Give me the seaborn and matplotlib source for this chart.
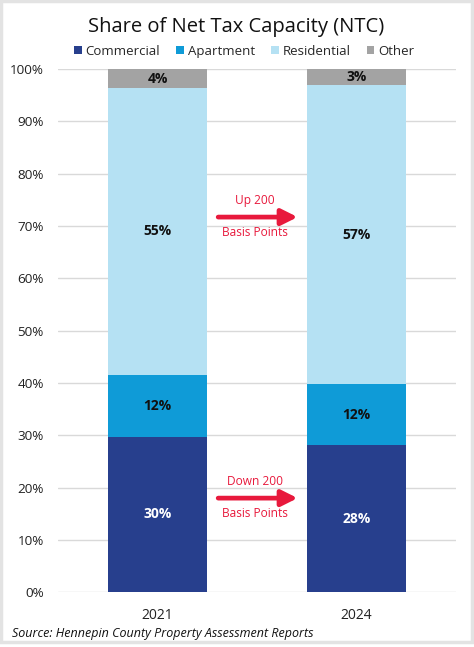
import matplotlib
matplotlib.use("Agg")
import matplotlib.pyplot as plt
import seaborn as sns
import pandas as pd
import numpy as np
from matplotlib.patches import Patch, Rectangle

years = ["2021", "2024"]
categories = ["Commercial", "Apartment", "Residential", "Other"]
commercial = [29.75, 28.1]
apartment = [11.8, 11.67]
residential = [54.8, 57.17]
other = [3.65, 3.06]
labels = {
    "Commercial": ["30%", "28%"],
    "Apartment": ["12%", "12%"],
    "Residential": ["55%", "57%"],
    "Other": ["4%", "3%"],
}
annotations = [("Up 200", "Basis Points", 71.7), ("Down 200", "Basis Points", 18.0)]
yticks = [0, 10, 20, 30, 40, 50, 60, 70, 80, 90, 100]

colors = {
    "Commercial": "#273f8d",
    "Apartment": "#0f9bd7",
    "Residential": "#b5e1f3",
    "Other": "#a3a3a3",
}
label_colors = {"Commercial": "white", "Apartment": "#111111",
                "Residential": "#111111", "Other": "#111111"}

sns.set_theme(style="white")
plt.rcParams["font.family"] = ["Open Sans", "DejaVu Sans"]

series = {"Commercial": commercial, "Apartment": apartment,
          "Residential": residential, "Other": other}
df = pd.DataFrame(series, index=years)
cum = df.cumsum(axis=1)

fig = plt.figure(figsize=(4.74, 6.47), dpi=100)
ax = fig.add_axes([0.123, 0.0845, 0.838, 0.8089])

for c in yticks:
    ax.axhline(c, color="#d9d9d9", lw=1, zorder=0)

for cat in reversed(categories):
    d = pd.DataFrame({"year": years, "val": cum[cat].values})
    sns.barplot(data=d, x="year", y="val", color=colors[cat], width=0.5,
                saturation=1, ax=ax, zorder=2, linewidth=0)

for i, y in enumerate(years):
    for cat in categories:
        top = cum.loc[y, cat]
        mid = top - df.loc[y, cat] / 2
        ax.text(i, mid, labels[cat][i], ha="center", va="center",
                fontsize=10, fontweight="bold", color=label_colors[cat], zorder=5)

red = "#e8193c"
for t1, t2, yv in annotations:
    ax.annotate("", xy=(0.705, yv), xytext=(0.305, yv),
                arrowprops=dict(arrowstyle="-|>,head_length=0.8,head_width=0.4",
                                color=red, lw=3.4, shrinkA=0, shrinkB=0), zorder=6)
    ax.text(0.49, yv + 3.2, t1, ha="center", va="center", color=red, fontsize=8.6, zorder=6)
    ax.text(0.49, yv - 2.9, t2, ha="center", va="center", color=red, fontsize=8.6, zorder=6)

ax.set_xlim(-0.5, 1.5)
ax.set_ylim(0, 100)
ax.set_yticks(yticks)
ax.set_yticklabels([f"{v}%" for v in yticks], fontsize=9.7, color="#222222")
ax.tick_params(axis="x", labelsize=10, colors="#222222", pad=11, length=0)
ax.tick_params(axis="y", length=0, pad=10.5)
ax.set_xlabel("")
ax.set_ylabel("")
for s in ax.spines.values():
    s.set_visible(False)
ax.grid(False)

fig.text(0.499, 0.959, "Share of Net Tax Capacity (NTC)", ha="center", va="center",
         fontsize=14.5, color="#111111")
handles = [Patch(facecolor=colors[c], edgecolor="none", label=c) for c in categories]
fig.legend(handles=handles, loc="center", bbox_to_anchor=(0.515, 0.921), ncol=4,
           frameon=False, fontsize=9.5, handlelength=0.6, handleheight=0.6,
           handletextpad=0.3, columnspacing=1.2)
fig.text(0.025, 0.021, "Source: Hennepin County Property Assessment Reports",
         ha="left", va="center", fontsize=9, style="italic", color="#111111")

fig.patches.append(Rectangle((0.002, 0.008), 0.993, 0.99, transform=fig.transFigure,
                             fill=False, edgecolor="#e3e3e3", lw=2.5))

fig.savefig("out.png", dpi=100, facecolor="white")
